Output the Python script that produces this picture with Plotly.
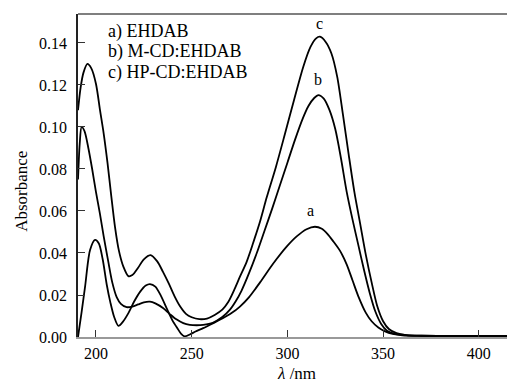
import plotly.graph_objects as go

# Wavelength (nm) and absorbance values
wl_a = [190.6, 192.5, 194.3, 196.9, 199.5, 201.5, 203.5, 205.6, 207.5, 209.5,
        211.7, 214, 217, 220, 223, 226, 228.2, 231, 234, 237,
        240, 242.5, 244.5, 246.3, 249, 252, 256, 261, 266, 271,
        275.2, 280, 285.7, 292.6, 299.6, 305, 310, 314.4, 318, 321,
        324, 327.5, 331, 334, 337, 341, 344, 347.5, 351, 355,
        360, 368, 380, 395, 410, 419]
abs_a = [0.0, 0.012, 0.024, 0.0414, 0.0462, 0.0445, 0.037, 0.025, 0.0165, 0.0095,
         0.0053, 0.0072, 0.0115, 0.017, 0.0215, 0.0245, 0.0252, 0.024, 0.0195, 0.0135,
         0.0078, 0.0042, 0.0015, 0.0003, 0.0012, 0.0026, 0.0042, 0.0065, 0.0088, 0.0115,
         0.0145, 0.019, 0.026, 0.035, 0.043, 0.048, 0.0513, 0.0525, 0.0515, 0.049,
         0.0455, 0.041, 0.0345, 0.027, 0.0195, 0.0115, 0.0075, 0.0045, 0.0027, 0.0015,
         0.0008, 0.0005, 0.0004, 0.0004, 0.0004, 0.0004]

wl_b = [190.6, 191.5, 192.5, 194, 196, 198, 200, 202, 204, 206.4,
        208.5, 210.8, 213, 216, 219, 222, 225, 228.2, 231, 235,
        238.7, 242, 245.6, 249, 252.6, 256, 261, 266, 270, 273,
        276, 280, 284, 288, 292, 296, 300, 304, 308, 311,
        314, 316.2, 319, 322, 325, 328, 331, 334, 337, 340,
        343, 346, 349, 352, 356, 362, 370, 385, 400, 419]
abs_b = [0.075, 0.092, 0.100, 0.098, 0.090, 0.080, 0.069, 0.059, 0.048, 0.036,
         0.026, 0.019, 0.0158, 0.0142, 0.0145, 0.0155, 0.0165, 0.0168, 0.016, 0.0138,
         0.0108, 0.0084, 0.0066, 0.0058, 0.0056, 0.0058, 0.0068, 0.0095, 0.013, 0.017,
         0.022, 0.0305, 0.040, 0.0505, 0.061, 0.072, 0.083, 0.094, 0.104, 0.110,
         0.1138, 0.1152, 0.1135, 0.108, 0.099, 0.085, 0.069, 0.056, 0.044, 0.032,
         0.021, 0.012, 0.0062, 0.003, 0.0015, 0.0009, 0.0006, 0.0005, 0.0005, 0.0005]

wl_c = [190.6, 192, 193.5, 195.5, 197.5, 200, 202.1, 204, 206, 208,
        210, 212, 214.3, 216.9, 219, 222, 225, 228.5, 232, 235,
        238, 241, 244, 247, 250, 254, 258, 262, 266, 269,
        272, 275.2, 278.7, 282, 285.7, 289.2, 294, 298.8, 303.5, 308.3,
        312, 315, 317, 320, 323, 326, 329, 332, 335, 338,
        341, 344, 347, 350, 353, 357, 362, 370, 385, 400, 419]
abs_c = [0.108, 0.119, 0.126, 0.130, 0.128, 0.1205, 0.108, 0.097, 0.083, 0.067,
         0.052, 0.041, 0.0335, 0.029, 0.0295, 0.033, 0.037, 0.039, 0.036, 0.031,
         0.0255, 0.0195, 0.0145, 0.011, 0.0094, 0.0085, 0.0088, 0.0105, 0.013, 0.0165,
         0.022, 0.0287, 0.0358, 0.0445, 0.055, 0.0665, 0.081, 0.097, 0.113, 0.1287,
         0.138, 0.1422, 0.143, 0.1405, 0.135, 0.124, 0.106, 0.087, 0.069, 0.054,
         0.039, 0.026, 0.0145, 0.0075, 0.0038, 0.0018, 0.0009, 0.0006, 0.0005, 0.0005, 0.0005]

series_names = ["a) EHDAB", "b) M-CD:EHDAB", "c) HP-CD:EHDAB"]
peak_labels = ["a", "b", "c"]
x_ticks = [200, 250, 300, 350, 400]
y_ticks = [0.00, 0.02, 0.04, 0.06, 0.08, 0.10, 0.12, 0.14]

FONT = "Liberation Serif, Times New Roman, serif"
fig = go.Figure()
series = [(wl_a, abs_a), (wl_b, abs_b), (wl_c, abs_c)]
for (wl, ab), name in zip(series, series_names):
    fig.add_trace(go.Scatter(x=wl, y=ab, mode="lines", name=name,
                             line=dict(color="black", width=1.8, shape="spline", smoothing=0.8),
                             showlegend=False))

# peak labels placed at each curve's maximum
label_shift = [(-4, 16), (0, 16), (0, 13)]
for (wl, ab), lab, (dx, dy) in zip(series, peak_labels, label_shift):
    i = max(range(len(ab)), key=lambda k: ab[k])
    fig.add_annotation(x=wl[i], y=ab[i], text=lab, showarrow=False,
                       xshift=dx, yshift=dy, font=dict(family=FONT, size=16, color="black"))

# legend text
for k, name in enumerate(series_names):
    fig.add_annotation(xref="paper", yref="paper", x=0.065, y=[0.9452, 0.8833, 0.8183][k],
                       xanchor="left", yanchor="middle", text=name, showarrow=False,
                       font=dict(family=FONT, size=18, color="black"))

fig.add_annotation(xref="paper", yref="paper", x=0.5, y=-0.112, text="<i>λ</i> /nm",
                   showarrow=False, xanchor="center", yanchor="middle",
                   font=dict(family=FONT, size=17, color="black"))
fig.add_annotation(xref="paper", yref="paper", x=-0.13, y=0.45, text="Absorbance",
                   textangle=-90, showarrow=False, xanchor="center", yanchor="middle",
                   font=dict(family=FONT, size=17, color="black"))

fig.add_shape(type="line", xref="paper", yref="paper", x0=0, x1=1, y0=1, y1=1,
              line=dict(color="#555555", width=1.5))

fig.update_xaxes(range=[190.6, 418.9], tickvals=x_ticks, ticks="inside", ticklen=7,
                 tickcolor="#333333", showline=True, linecolor="#999999", linewidth=1.5,
                 showgrid=False, zeroline=False, ticklabelstandoff=1,
                 tickfont=dict(family=FONT, size=16, color="black"))
fig.update_yaxes(range=[0, 0.1538], tickvals=y_ticks, tickformat=".2f", ticks="inside",
                 ticklen=7, tickcolor="#333333", showline=True, linecolor="#222222",
                 linewidth=1.5, showgrid=False, zeroline=False, ticklabelstandoff=6,
                 tickfont=dict(family=FONT, size=16, color="black"))

# the page adds an 8px body margin, so the figure is 8px smaller than the window
fig.update_layout(width=507, height=376, margin=dict(l=70, r=0, t=6, b=47),
                  plot_bgcolor="white", paper_bgcolor="white")
fig.write_html("out.html")
